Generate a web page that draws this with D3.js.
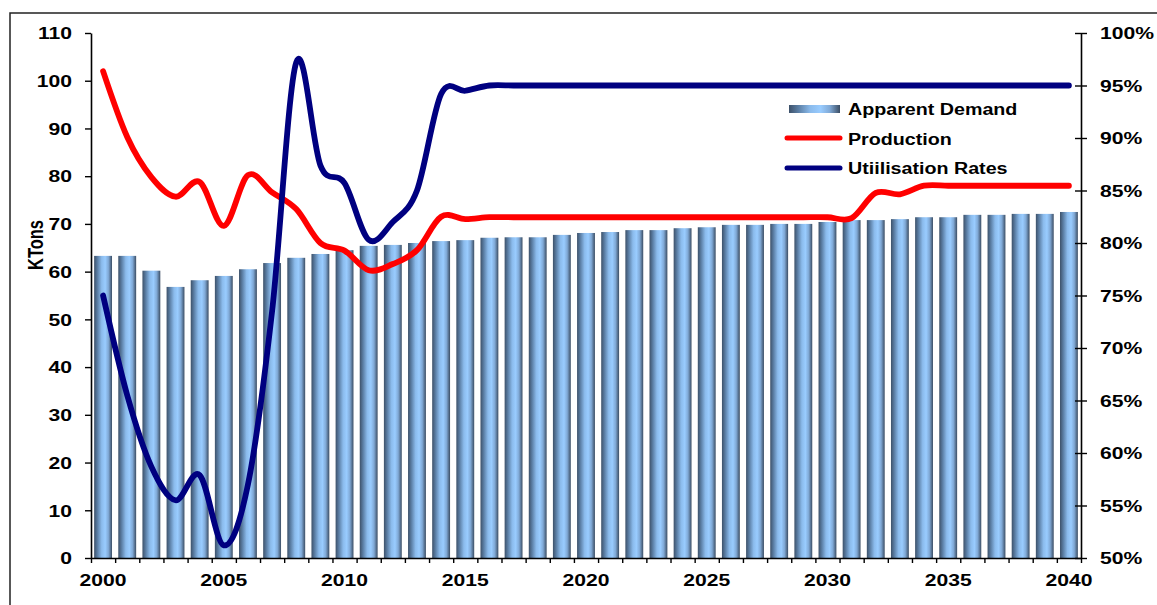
<!DOCTYPE html>
<html><head><meta charset="utf-8">
<script src="https://cdn.jsdelivr.net/npm/d3@7"></script>
<style>
body{margin:0;background:#fff}
text{font-family:"Liberation Sans",Arial,sans-serif;font-weight:bold;fill:#000}
</style>
</head><body><svg id="c" width="1157" height="605"></svg>
<script>
const years=[2000,2001,2002,2003,2004,2005,2006,2007,2008,2009,2010,2011,2012,2013,2014,2015,2016,2017,2018,2019,2020,2021,2022,2023,2024,2025,2026,2027,2028,2029,2030,2031,2032,2033,2034,2035,2036,2037,2038,2039,2040];
const demand=[63.3,63.3,60.2,56.8,58.2,59.1,60.5,61.8,62.9,63.7,
  64.5,65.4,65.6,66.0,66.4,66.6,67.1,67.2,67.2,67.7,
  68.1,68.3,68.7,68.7,69.1,69.3,69.8,69.8,70.0,70.0,
  70.4,70.8,70.8,71.0,71.4,71.4,71.9,71.9,72.1,72.1,72.5];
const production=[102.0,88.2,79.8,75.7,78.8,69.6,80.2,76.6,73.1,66.0,
  64.4,60.3,61.6,64.5,71.5,71.0,71.4,71.4,71.4,71.4,
  71.4,71.4,71.4,71.4,71.4,71.4,71.4,71.4,71.4,71.4,
  71.4,71.2,76.5,76.2,78.0,78.0,78.0,78.0,78.0,78.0,78.0];
const utilisation=[0.750,0.655,0.587,0.555,0.579,0.512,0.570,0.735,0.972,0.874,
  0.857,0.803,0.820,0.850,0.942,0.945,0.950,0.950,0.950,0.950,
  0.950,0.950,0.950,0.950,0.950,0.950,0.950,0.950,0.950,0.950,
  0.950,0.950,0.950,0.950,0.950,0.950,0.950,0.950,0.950,0.950,0.950];
const leftTicks=[0,10,20,30,40,50,60,70,80,90,100,110];
const rightTicks=[0.50,0.55,0.60,0.65,0.70,0.75,0.80,0.85,0.90,0.95,1.00];
const labelYears=[2000,2005,2010,2015,2020,2025,2030,2035,2040];
const seriesNames=["Apparent Demand","Production","Utiilisation Rates"];
const leftTitle="KTons";

const SX=1.32, SXL=1.23;
const svg=d3.select("#c");
const m={l:91,r:1081,t:33,b:558};

// border
svg.append("rect").attr("x",10).attr("y",13).attr("width",1300).attr("height",800)
  .attr("fill","none").attr("stroke","#222").attr("stroke-width",1.5);

const defs=svg.append("defs");
const g=defs.append("linearGradient").attr("id","barGrad").attr("x1",0).attr("x2",1).attr("y1",0).attr("y2",0);
[[0,"#3d5169"],[0.18,"#5a7da3"],[0.42,"#8bbbec"],[0.62,"#99ccff"],[0.8,"#80a9d6"],[1,"#3b4d63"]]
  .forEach(([o,c])=>g.append("stop").attr("offset",o).attr("stop-color",c));

const x=d3.scaleBand().domain(years).range([m.l,m.r]).padding(0);
const bw=x.bandwidth();
const xi=d3.scaleLinear().domain([0,years.length]).range([m.l,m.r]);
const yL=d3.scaleLinear().domain([0,110]).range([m.b,m.t]);
const yR=d3.scaleLinear().domain([0.5,1]).range([m.b,m.t]);

// bars
const barW=bw*0.74;
svg.append("g").selectAll("rect").data(years).join("rect")
  .attr("x",(d)=>x(d)+bw/2-barW/2)
  .attr("width",barW)
  .attr("y",(d,i)=>yL(demand[i]))
  .attr("height",(d,i)=>yL(0)-yL(demand[i]))
  .attr("fill","url(#barGrad)");

const curve=d3.curveCatmullRom.alpha(0);
const lineP=d3.line().x((d,i)=>x(years[i])+bw/2).y(d=>yL(d)).curve(curve);
const lineU=d3.line().x((d,i)=>x(years[i])+bw/2).y(d=>yR(d)).curve(curve);
svg.append("path").attr("d",lineP(production)).attr("fill","none").attr("stroke","#ff0000")
  .attr("stroke-width",5.8).attr("stroke-linecap","round").attr("stroke-linejoin","round");
svg.append("path").attr("d",lineU(utilisation)).attr("fill","none").attr("stroke","#000080")
  .attr("stroke-width",5.8).attr("stroke-linecap","round").attr("stroke-linejoin","round");

// left axis
const la=svg.append("g").attr("transform",`translate(${m.l},0)`)
  .call(d3.axisLeft(yL).tickValues(leftTicks).tickSizeInner(6).tickSizeOuter(0));
la.selectAll("text").attr("x",-19/SX).attr("transform",`scale(${SX},1)`)
  .style("font-size","16px").attr("dy","0.36em");

// right axis
const ra=svg.append("g").attr("transform",`translate(${m.r},0)`)
  .call(d3.axisRight(yR).tickValues(rightTicks).tickSizeInner(6).tickSizeOuter(0).tickFormat(d3.format(".0%")));
ra.selectAll(".tick line").attr("x1",-6).attr("x2",6);
ra.selectAll("text").attr("x",19/SX).attr("transform",`scale(${SX},1)`)
  .style("font-size","16px").attr("dy","0.36em");

// bottom axis
const ba=svg.append("g").attr("transform",`translate(0,${m.b})`)
  .call(d3.axisBottom(xi).tickValues(d3.range(years.length+1)).tickSizeInner(5).tickSizeOuter(0).tickFormat(""));
svg.append("g").selectAll("text").data(labelYears).join("text")
  .attr("transform",d=>`translate(${x(d)+bw/2},586) scale(${SX},1)`)
  .attr("text-anchor","middle").style("font-size","16px").text(d=>d);

[la,ra,ba].forEach(a=>{a.selectAll("path.domain").attr("stroke","#000").attr("stroke-width",1.6);
  a.selectAll(".tick line").attr("stroke","#000").attr("stroke-width",1.4);});

// left title
svg.append("text").attr("transform","translate(35,245) scale(1.3,1) rotate(-90)")
  .attr("text-anchor","middle").attr("dy","0.36em").style("font-size","16.5px").text(leftTitle);

// legend
const lg=svg.append("g");
lg.append("rect").attr("x",789).attr("y",105).attr("width",51).attr("height",8).attr("fill","url(#barGrad)");
lg.append("line").attr("x1",787).attr("x2",840).attr("y1",138).attr("y2",138)
  .attr("stroke","#ff0000").attr("stroke-width",5).attr("stroke-linecap","round");
lg.append("line").attr("x1",787).attr("x2",840).attr("y1",168).attr("y2",168)
  .attr("stroke","#000080").attr("stroke-width",5).attr("stroke-linecap","round");
[115,145,174].forEach((yy,i)=>{
  lg.append("text").attr("transform",`translate(848,${yy}) scale(${SXL},1)`)
    .style("font-size","16px").text(seriesNames[i]);
});
</script></body></html>
